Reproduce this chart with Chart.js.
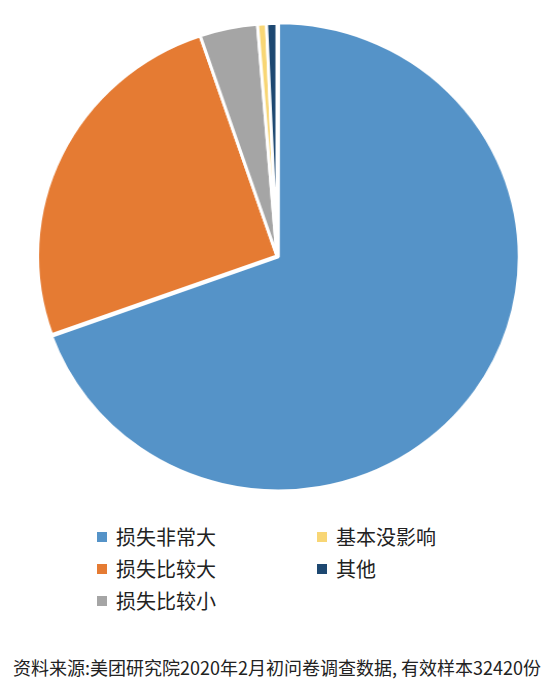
<!DOCTYPE html>
<html lang="zh-CN">
<head>
<meta charset="utf-8">
<title>损失情况</title>
<script src="https://cdn.jsdelivr.net/npm/chart.js@4/dist/chart.umd.min.js"></script>
<style>
  html, body { margin: 0; padding: 0; background: #fff; overflow: hidden; }
  body { width: 554px; height: 696px; position: relative; font-family: "Noto Sans CJK SC", "Noto Sans", sans-serif; color: #222; }
  /* the source pie is a touch wider than tall */
  #pieWrap { position: absolute; left: 0; top: 0; width: 554px; height: 512px; transform: scaleX(1.03); transform-origin: 277px 0; }
  #legend {
    position: absolute; left: 97px; top: 521px;
    display: grid; grid-auto-flow: column;
    grid-template-rows: repeat(3, 32px); grid-template-columns: 220px 200px;
  }
  .item { display: flex; align-items: center; font-size: 20px; line-height: 32px; }
  .box { width: 10px; height: 10px; margin-right: 9px; flex: none; }
  #source { position: absolute; left: 13px; top: 654px; font-size: 18px; line-height: 26px; white-space: nowrap; }
</style>
</head>
<body>
<div id="pieWrap"><canvas id="pieChart"></canvas></div>
<div id="legend"></div>
<div id="source">资料来源:美团研究院2020年2月初问卷调查数据, 有效样本32420份</div>
<script>
const labels = ["损失非常大", "损失比较大", "损失比较小", "基本没影响", "其他"];
const shares = [69.5, 25.3, 3.9, 0.6, 0.7];
const colors = ["#5593C8", "#E57B33", "#A5A5A5", "#F8D675", "#1D4871"];
const offsets = [6, 0, 0, 0, 0];

const legendEl = document.getElementById("legend");
labels.forEach((name, i) => {
  const item = document.createElement("div");
  item.className = "item";
  item.innerHTML = `<span class="box" style="background:${colors[i]}"></span><span>${name}</span>`;
  legendEl.appendChild(item);
});

new Chart(document.getElementById("pieChart"), {
  type: "pie",
  data: {
    labels,
    datasets: [{
      data: shares,
      backgroundColor: colors,
      borderColor: "#fff",
      borderWidth: 3,
      offset: offsets
    }]
  },
  options: {
    responsive: true,
    maintainAspectRatio: false,
    animation: false,
    radius: 232.5,
    layout: { padding: 0 },
    plugins: { legend: { display: false }, tooltip: { enabled: false } }
  }
});
</script>
</body>
</html>
